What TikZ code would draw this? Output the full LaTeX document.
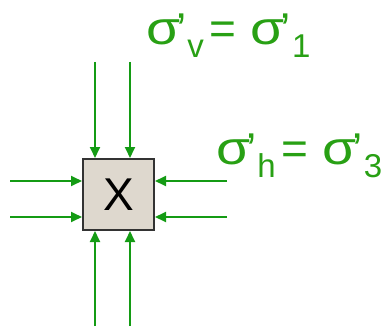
\documentclass[tikz,border=0pt]{standalone}
\usepackage{fontspec}
\setmainfont{Liberation Sans}
\usetikzlibrary{arrows.meta, positioning, calc}
\definecolor{pushGreen}{RGB}{20,155,20}
\definecolor{lblGreen}{RGB}{40,160,20}
\definecolor{soilFill}{RGB}{222,216,206}
\tikzset{
    x=1pt, y=-1pt,
    >={Triangle[length=11pt, width=10pt]},
    % Element and loads
    element/.style={rectangle, draw=black!80, fill=soilFill, line width=2pt,
                    minimum size=71pt, inner sep=0pt, font=\fontsize{46}{46}\selectfont},
    push/.style={->, line width=1.8pt, draw=pushGreen},
    lbl/.style={text=lblGreen, inner sep=0pt, anchor=base west,
                font=\fontsize{46}{46}\selectfont},
}
\newcommand{\stressSig}{\scalebox{1.2}[1.02]{σ}}
\newcommand{\stressSub}[1]{\raisebox{-13pt}{\fontsize{33}{33}\selectfont #1}}
\newcommand{\stressPrime}{\kern-4pt\raisebox{-1pt}{’}\kern1pt}

\begin{document}
\begin{tikzpicture}
\useasboundingbox (0,0) rectangle (382,326);

\node[element] (box) at (118.5,194.5) {X};

% tails of the loads
\coordinate (top1) at (95,62);
\coordinate (top2) at (130,62);
\coordinate (bot1) at (95,326);
\coordinate (bot2) at (130,326);
\coordinate (lft1) at (10,181);
\coordinate (lft2) at (10,217);
\coordinate (rgt1) at (227,181);
\coordinate (rgt2) at (227,217);

\draw[push] (top1) -- (top1 |- box.north);
\draw[push] (top2) -- (top2 |- box.north);
\draw[push] (bot1) -- (bot1 |- box.south);
\draw[push] (bot2) -- (bot2 |- box.south);
\draw[push] (lft1) -- (lft1 -| box.west);
\draw[push] (lft2) -- (lft2 -| box.west);
\draw[push] (rgt1) -- (rgt1 -| box.east);
\draw[push] (rgt2) -- (rgt2 -| box.east);

\node[lbl] (sigv) at (146,45) {\stressSig\stressPrime\stressSub{v}\kern6pt=\kern14pt\stressSig\stressPrime\stressSub{1}};
\node[lbl] (sigh) at (216,164) {\stressSig\stressPrime\stressSub{h}\kern6pt=\kern14pt\stressSig\stressPrime\stressSub{3}};

\end{tikzpicture}
\end{document}
